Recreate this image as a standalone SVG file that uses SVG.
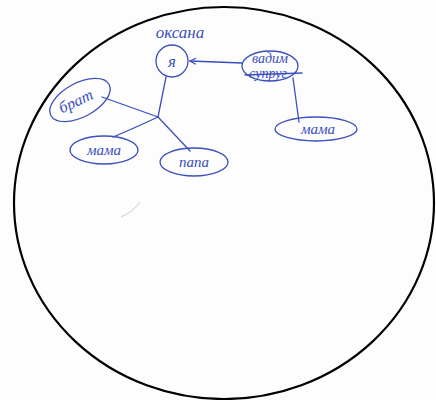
<svg xmlns="http://www.w3.org/2000/svg" width="436" height="400" viewBox="0 0 436 400">
<style>
.ink{fill:none;stroke:#3b4fbf;stroke-width:1.3;stroke-linecap:round;stroke-linejoin:round}
.lbl{font-family:"Liberation Serif","DejaVu Serif",serif;font-style:italic;fill:#3b4fbf;text-anchor:middle}
</style>
<defs>
<marker id="ah" markerWidth="8" markerHeight="8" refX="7" refY="4" orient="auto" markerUnits="userSpaceOnUse">
<path d="M1,1 L7,4 L1,7" fill="none" stroke="#3b4fbf" stroke-width="1.2"/>
</marker>
</defs>
<rect width="436" height="400" fill="#fdfdfd"/>
<ellipse cx="224" cy="203" rx="210" ry="196" fill="none" stroke="#000" stroke-width="2.2"/>
<path d="M121,217 Q133,212 140,202" fill="none" stroke="#c9c9cf" stroke-width="1"/>
<g id="connectors">
<path class="ink" d="M242,63 L190,61" marker-end="url(#ah)"/>
<path class="ink" d="M293,78 L299,122"/>
<path class="ink" d="M166,77 L158,117"/>
<path class="ink" d="M158,117 L102,97"/>
<path class="ink" d="M158,117 Q130,130 113,137"/>
<path class="ink" d="M158,117 L190,151"/>
</g>
<g id="oksana">
<text class="lbl" x="180" y="38" font-size="17">оксана</text>
</g>
<g id="ya">
<circle class="ink" cx="172" cy="61" r="16"/>
<text class="lbl" x="172" y="67" font-size="17">я</text>
</g>
<g id="vadim">
<ellipse class="ink" cx="270" cy="66" rx="28" ry="15"/>
<text class="lbl" x="270" y="63" font-size="14">вадим</text>
<text class="lbl" x="268" y="78" font-size="14">супруг</text>
<path class="ink" d="M245,75 L302,73"/>
</g>
<g id="mama-right">
<ellipse class="ink" cx="316" cy="129" rx="41" ry="12"/>
<text class="lbl" x="318" y="134" font-size="15">мама</text>
</g>
<g id="brat">
<ellipse class="ink" cx="80" cy="100" rx="33" ry="17" transform="rotate(-28 80 100)"/>
<text class="lbl" x="78" y="106" font-size="16" transform="rotate(-25 78 106)">брат</text>
</g>
<g id="mama-left">
<ellipse class="ink" cx="104" cy="150" rx="34" ry="14"/>
<text class="lbl" x="104" y="155" font-size="15">мама</text>
</g>
<g id="papa">
<ellipse class="ink" cx="194" cy="162" rx="34" ry="14"/>
<text class="lbl" x="194" y="167" font-size="15">папа</text>
</g>
</svg>
